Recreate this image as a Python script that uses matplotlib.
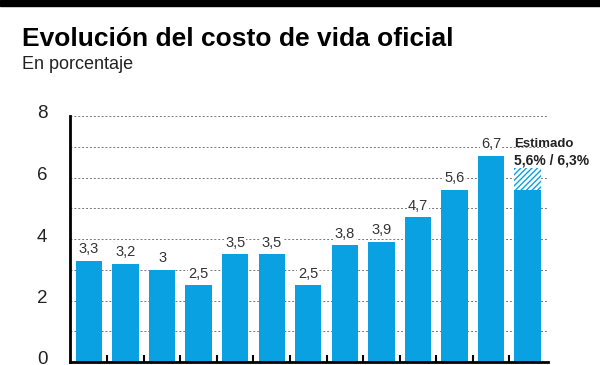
"""Evolución del costo de vida oficial - bar chart."""

import matplotlib

matplotlib.use("Agg")
import matplotlib.pyplot as plt
import matplotlib.transforms as mtransforms
import numpy as np

values = [3.3, 3.2, 3.0, 2.5, 3.5, 3.5, 2.5, 3.8, 3.9, 4.7, 5.6, 6.7, 5.6]
labels = ["3,3", "3,2", "3", "2,5", "3,5", "3,5", "2,5", "3,8", "3,9", "4,7", "5,6", "6,7", ""]
estimate_low = 5.6
estimate_high = 6.3
y_ticks = [0, 2, 4, 6, 8]

BLUE = "#0aa1e2"
TEXT = "#222222"

plt.rcParams["font.family"] = ["Liberation Sans", "DejaVu Sans"]

fig = plt.figure(figsize=(6, 3.65), dpi=100)
ax = fig.add_axes([70 / 600, 3 / 365, 478 / 600, 246 / 365])

x = np.arange(len(values))
ax.bar(x, values, width=0.72, color=BLUE, zorder=2)
# estimated range on the last bar
ax.bar(x[-1], estimate_high - estimate_low, bottom=estimate_low, width=0.72,
       color="white", edgecolor=BLUE, hatch="//////", linewidth=0, zorder=2)

for xi, v, lab in zip(x, values, labels):
    if lab:
        ax.text(xi, v + 0.15, lab, ha="center", va="bottom", fontsize=10.5, color="#333333",
                bbox=dict(facecolor="white", edgecolor="none", pad=0.5), zorder=3)

ax.text(x[-1] - 0.36, 6.98, "Estimado", ha="left", va="baseline", fontsize=9.5,
        fontweight="bold", color=TEXT, zorder=3)
ax.text(x[-1] - 0.36, 6.43, "5,6% / 6,3%", ha="left", va="baseline", fontsize=10,
        fontweight="bold", color=TEXT, zorder=3)

ax.set_ylim(0, 8)
ax.set_xlim(-0.52, len(values) - 0.44)
ax.set_yticks(y_ticks)
ax.set_yticklabels([str(t) for t in y_ticks], fontsize=13.5, color=TEXT)
ax.tick_params(axis="y", length=0, pad=20)
lift = mtransforms.ScaledTranslation(0, 4 / 100, fig.dpi_scale_trans)
for lab in ax.get_yticklabels():
    lab.set_transform(lab.get_transform() + lift)
    lab.set_horizontalalignment("center")
for yv in range(1, 9):
    ax.axhline(yv, color="#777777", linestyle=(0, (2, 2)), linewidth=0.7, zorder=1)

ax.set_xticks(x[:-1] + 0.5)
ax.set_xticklabels([])
ax.tick_params(axis="x", direction="in", length=5, width=1.5, color="black")

for side in ["top", "right"]:
    ax.spines[side].set_visible(False)
ax.spines["left"].set_linewidth(2)
ax.spines["bottom"].set_linewidth(2)
ax.spines["left"].set_bounds(0, 8)

# top black band
fig.patches.append(plt.Rectangle((0, 1 - 6 / 365), 1, 6 / 365, transform=fig.transFigure,
                                 color="black", zorder=5))

fig.text(22 / 600, 1 - 46 / 365, "Evolución del costo de vida oficial", fontsize=19,
         fontweight="bold", color="black", va="baseline")
fig.text(22 / 600, 1 - 69 / 365, "En porcentaje", fontsize=13, color=TEXT, va="baseline")

fig.savefig("out.png", dpi=100)
